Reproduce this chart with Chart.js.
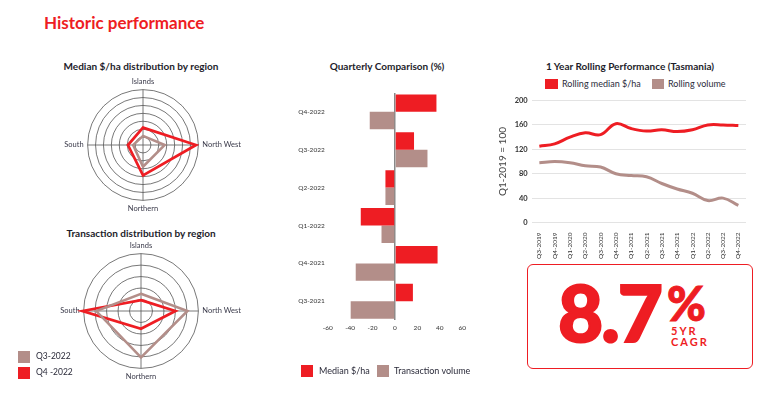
<!DOCTYPE html>
<html>
<head>
<meta charset="utf-8">
<script src="https://cdn.jsdelivr.net/npm/chart.js@4"></script>
<style>
  body { margin: 0; width: 769px; height: 405px; position: relative; overflow: hidden; background: #fff; font-family: Lato, "Open Sans", sans-serif; }
  .abs { position: absolute; }
  .title { position: absolute; font-weight: bold; color: #1d1d2b; font-size: 10px; white-space: nowrap; transform: translateX(-50%); }
  .sw { position: absolute; width: 12px; height: 12px; }
  .lg { position: absolute; font-size: 9px; color: #2b2b3a; white-space: nowrap; }
  canvas { position: absolute; }
</style>
</head>
<body>
<div class="abs" style="left:44px;top:12px;font-size:17px;font-weight:bold;color:#ee1d23;white-space:nowrap;">Historic performance</div>

<div class="title" style="left:141px;top:60px;">Median $/ha distribution by region</div>
<div class="title" style="left:141px;top:227px;">Transaction distribution by region</div>
<div class="title" style="left:387px;top:60px;">Quarterly Comparison (%)</div>
<div class="title" style="left:630px;top:60px;">1 Year Rolling Performance (Tasmania)</div>

<canvas id="radarMedian" width="196" height="196" style="left:55px;top:47px;"></canvas>
<canvas id="radarTxn" width="199" height="199" style="left:52px;top:212px;"></canvas>
<canvas id="barChart" width="182" height="250" style="left:288px;top:86px;"></canvas>
<canvas id="lineChart" width="262" height="169" style="left:488px;top:92px;"></canvas>

<!-- radar legend -->
<div class="sw" style="left:18px;top:351px;background:#b38e89;"></div>
<div class="lg" style="left:36px;top:351px;font-size:8.5px;">Q3-2022</div>
<div class="sw" style="left:18px;top:367px;background:#ee1d23;"></div>
<div class="lg" style="left:36px;top:367px;font-size:8.5px;">Q4 -2022</div>

<!-- bar legend -->
<div class="sw" style="left:301px;top:365px;background:#ee1d23;"></div>
<div class="lg" style="left:319px;top:365px;">Median $/ha</div>
<div class="sw" style="left:377px;top:365px;background:#b38e89;"></div>
<div class="lg" style="left:394px;top:365px;">Transaction volume</div>

<!-- line legend -->
<div class="sw" style="left:545px;top:79px;width:13px;height:10px;background:#ee1d23;"></div>
<div class="lg" style="left:562px;top:78px;">Rolling median $/ha</div>
<div class="sw" style="left:652px;top:79px;width:12px;height:10px;background:#b38e89;"></div>
<div class="lg" style="left:668px;top:78px;">Rolling volume</div>

<!-- CAGR box -->
<div class="abs" style="left:527px;top:264px;width:224px;height:103px;border:1px solid #ee1d23;border-radius:6px;"></div>
<div class="abs" style="left:558px;top:265px;font-size:78px;font-weight:900;color:#ee1d23;letter-spacing:-2px;-webkit-text-stroke:2px #ee1d23;">8.7</div>
<div class="abs" style="left:667px;top:275px;font-size:47px;font-weight:900;color:#ee1d23;-webkit-text-stroke:1px #ee1d23;">%</div>
<div class="abs" style="left:671px;top:325px;font-size:11px;font-weight:bold;color:#ee1d23;letter-spacing:2px;line-height:11px;">5YR<br>CAGR</div>

<script>
const RED = '#ee1d23';
const BROWN = '#b38e89';

// radar charts
const regions = ['Islands', 'North West', 'Northern', 'South'];
const medianQ3 = [1.15, 2.75, 2.75, 1.25];
const medianQ4 = [2.2, 6.7, 3.85, 1.9];
const txnQ3 = [1.5, 4.05, 4.05, 3.9];
const txnQ4 = [0.95, 3.0, 1.55, 5.1];

// quarterly comparison
const quarters = ['Q4-2022', 'Q3-2022', 'Q2-2022', 'Q1-2022', 'Q4-2021', 'Q3-2021'];
const medianChange = [37, 17, -8.5, -30.5, 38, 16];
const volumeChange = [-22.5, 29, -8.5, -12, -35, -39.5];

// rolling performance
const rollingQuarters = ['Q3-2019', 'Q4-2019', 'Q1-2020', 'Q2-2020', 'Q3-2020', 'Q4-2020', 'Q1-2021',
    'Q2-2021', 'Q3-2021', 'Q4-2021', 'Q1-2022', 'Q2-2022', 'Q3-2022', 'Q4-2022'];
const rollingMedian = [125, 129, 140, 147, 144, 162, 154, 150, 152, 149, 152, 160, 160, 159];
const rollingVolume = [98, 100, 98, 93, 91, 80, 77, 75, 64, 55, 48, 36, 40, 28];

Chart.defaults.font.family = 'Lato, "Open Sans", sans-serif';
Chart.defaults.animation = false;

function makeRadar(id, q3, q4, max) {
    new Chart(document.getElementById(id), {
        type: 'radar',
        data: {
            labels: regions,
            datasets: [
                { label: 'Q3-2022', data: q3, borderColor: BROWN, borderWidth: 2.5, fill: false, pointRadius: 0 },
                { label: 'Q4 -2022', data: q4, borderColor: RED, borderWidth: 2.7, fill: false, pointRadius: 0 }
            ]
        },
        options: {
            responsive: false,
            plugins: { legend: { display: false }, tooltip: { enabled: false } },
            elements: { line: { tension: 0 } },
            scales: {
                r: {
                    min: 0,
                    max: max,
                    ticks: { display: false, stepSize: 1 },
                    grid: { circular: true, color: '#555', lineWidth: 0.8 },
                    angleLines: { color: '#555', lineWidth: 0.8 },
                    pointLabels: { font: { size: 7.5 }, color: '#3a3a4a', padding: 4 }
                }
            }
        }
    });
}

makeRadar('radarMedian', medianQ3, medianQ4, 7);
makeRadar('radarTxn', txnQ3, txnQ4, 5);

new Chart(document.getElementById('barChart'), {
    type: 'bar',
    data: {
        labels: quarters,
        datasets: [
            { label: 'Median $/ha', data: medianChange, backgroundColor: RED },
            { label: 'Transaction volume', data: volumeChange, backgroundColor: BROWN }
        ]
    },
    options: {
        responsive: false,
        indexAxis: 'y',
        categoryPercentage: 0.92,
        barPercentage: 1,
        layout: { padding: { top: 5 } },
        plugins: { legend: { display: false }, tooltip: { enabled: false } },
        scales: {
            x: {
                min: -60,
                max: 60,
                ticks: { stepSize: 20, font: { size: 6.5 }, color: '#333', padding: 4 },
                grid: {
                    drawTicks: false,
                    color: ctx => ctx.tick && ctx.tick.value === 0 ? '#888' : 'rgba(0,0,0,0)',
                    lineWidth: 1.5
                },
                border: { display: false }
            },
            y: {
                afterFit: axis => { axis.width = 39.7; },
                ticks: { font: { size: 6.5 }, color: '#333', padding: 3 },
                grid: { display: false, drawTicks: false },
                border: { display: false }
            }
        }
    }
});

new Chart(document.getElementById('lineChart'), {
    type: 'line',
    data: {
        labels: rollingQuarters,
        datasets: [
            { label: 'Rolling median $/ha', data: rollingMedian, borderColor: RED, borderWidth: 3, pointRadius: 0, tension: 0.4 },
            { label: 'Rolling volume', data: rollingVolume, borderColor: BROWN, borderWidth: 3, pointRadius: 0, tension: 0.4 }
        ]
    },
    options: {
        responsive: false,
        layout: { padding: { top: 6, right: 4 } },
        plugins: { legend: { display: false }, tooltip: { enabled: false } },
        scales: {
            x: {
                offset: true,
                ticks: { autoSkip: false, maxRotation: 90, minRotation: 90, font: { size: 6.5 }, color: '#333', padding: 2 },
                grid: { display: false },
                border: { display: false }
            },
            y: {
                min: 0,
                max: 200,
                afterFit: axis => { axis.width = 43.7; },
                ticks: { stepSize: 40, font: { size: 7.5, weight: 'bold' }, color: '#333', padding: 4 },
                grid: { color: '#e3e3e3', drawTicks: false },
                border: { display: false },
                title: { display: true, text: 'Q1-2019 = 100', font: { size: 10 }, color: '#444', padding: { top: 9, bottom: 0 } }
            }
        }
    }
});
</script>
</body>
</html>
